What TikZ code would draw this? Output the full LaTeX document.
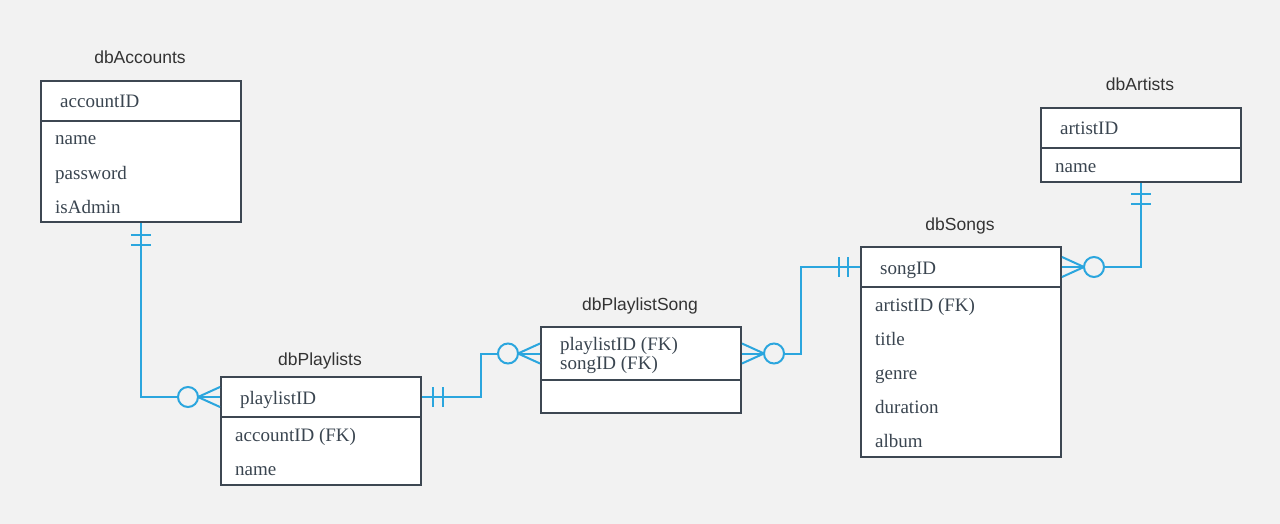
\documentclass[tikz,border=0pt]{standalone}
\usepackage{fontspec}
\setmainfont{Liberation Serif}
\newfontfamily\titlefont{Liberation Sans}
\usetikzlibrary{calc}
\definecolor{bg}{HTML}{F2F2F2}
\definecolor{edgec}{HTML}{3D4752}
\definecolor{connc}{HTML}{2BA6DE}
\definecolor{txtc}{HTML}{3A4550}
\definecolor{ttlc}{HTML}{333333}
\begin{document}
\begin{tikzpicture}[x=1pt,y=-1pt,
  ebox/.style={draw=edgec, line width=2pt, fill=white, minimum width=200pt, inner sep=0pt, anchor=north west},
  ttl/.style={anchor=base, inner sep=0pt, text=ttlc, font=\titlefont\fontsize{17.5}{20}\selectfont},
  attr/.style={anchor=base west, inner sep=0pt, text=txtc, font=\fontsize{19}{16}\selectfont},
  conn/.style={draw=connc, line width=2pt},
  zcirc/.style={draw=connc, line width=2pt, fill=bg}]
\fill[bg] (0,0) rectangle (1280,524);
\useasboundingbox (0,0) rectangle (1280,524);

% dbAccounts
\node[ttl] (acct) at (140,63.5) {dbAccounts};
\node[ebox, minimum height=40pt] (acch) at (40,80) {};
\node[ebox, minimum height=101pt] (accb) at (40,120) {};
\node[attr] (acc0) at (60,108) {accountID};
\node[attr] (acc1) at (55,145) {name};
\node[attr] (acc2) at (55,179) {password};
\node[attr] (acc3) at (55,213) {isAdmin};

% dbPlaylists
\node[ttl] (plt) at (320,365) {dbPlaylists};
\node[ebox, minimum height=40pt] (plh) at (220,376) {};
\node[ebox, minimum height=68pt] (plb) at (220,416) {};
\node[attr] (pl0) at (240,404) {playlistID};
\node[attr] (pl1) at (235,441) {accountID (FK)};
\node[attr] (pl2) at (235,475) {name};

% dbPlaylistSong
\node[ttl] (pst) at (640,310.5) {dbPlaylistSong};
\node[ebox, minimum height=53pt] (psh) at (540,326) {};
\node[ebox, minimum height=33pt] (psb) at (540,379) {};
\node[attr] (ps0) at (560,350.5) {playlistID (FK)};
\node[attr] (ps1) at (560,369.5) {songID (FK)};

% dbSongs
\node[ttl] (sgt) at (960,230) {dbSongs};
\node[ebox, minimum height=40pt] (sgh) at (860,246) {};
\node[ebox, minimum height=170pt] (sgb) at (860,286) {};
\node[attr] (sg0) at (880,274) {songID};
\node[attr] (sg1) at (875,311) {artistID (FK)};
\node[attr] (sg2) at (875,345) {title};
\node[attr] (sg3) at (875,379) {genre};
\node[attr] (sg4) at (875,413) {duration};
\node[attr] (sg5) at (875,447) {album};

% dbArtists
\node[ttl] (art) at (1140,91) {dbArtists};
\node[ebox, minimum height=40pt] (arh) at (1040,107) {};
\node[ebox, minimum height=34pt] (arb) at (1040,147) {};
\node[attr] (ar0) at (1060,135) {artistID};
\node[attr] (ar1) at (1055,172) {name};

% connector 1: dbAccounts (one) -- dbPlaylists (zero or many)
\draw[conn] (accb.south) |- (plh.west);
\draw[conn] ($(accb.south)+(-10,12)$) -- ++(20,0);
\draw[conn] ($(accb.south)+(-10,22)$) -- ++(20,0);
\draw[conn] ($(plh.west)+(0,-10)$) -- ($(plh.west)+(-22,0)$) -- ($(plh.west)+(0,10)$);
\draw[zcirc] ($(plh.west)+(-32,0)$) circle[radius=10];

% connector 2: dbPlaylists (one) -- dbPlaylistSong (zero or many)
\draw[conn] (plh.east) -| ($(plh.east)!.5!(psh.west)$) |- (psh.west);
\draw[conn] ($(plh.east)+(11,-10)$) -- ++(0,20);
\draw[conn] ($(plh.east)+(21,-10)$) -- ++(0,20);
\draw[conn] ($(psh.west)+(0,-10)$) -- ($(psh.west)+(-22,0)$) -- ($(psh.west)+(0,10)$);
\draw[zcirc] ($(psh.west)+(-32,0)$) circle[radius=10];

% connector 3: dbPlaylistSong (zero or many) -- dbSongs (one)
\draw[conn] (psh.east) -| ($(psh.east)!.5!(sgh.west)$) |- (sgh.west);
\draw[conn] ($(psh.east)+(0,-10)$) -- ($(psh.east)+(22,0)$) -- ($(psh.east)+(0,10)$);
\draw[zcirc] ($(psh.east)+(32,0)$) circle[radius=10];
\draw[conn] ($(sgh.west)+(-12,-10)$) -- ++(0,20);
\draw[conn] ($(sgh.west)+(-21,-10)$) -- ++(0,20);

% connector 4: dbSongs (zero or many) -- dbArtists (one)
\draw[conn] (sgh.east) -| (arb.south);
\draw[conn] ($(sgh.east)+(0,-10)$) -- ($(sgh.east)+(22,0)$) -- ($(sgh.east)+(0,10)$);
\draw[zcirc] ($(sgh.east)+(32,0)$) circle[radius=10];
\draw[conn] ($(arb.south)+(-10,11)$) -- ++(20,0);
\draw[conn] ($(arb.south)+(-10,21)$) -- ++(20,0);
\end{tikzpicture}
\end{document}
